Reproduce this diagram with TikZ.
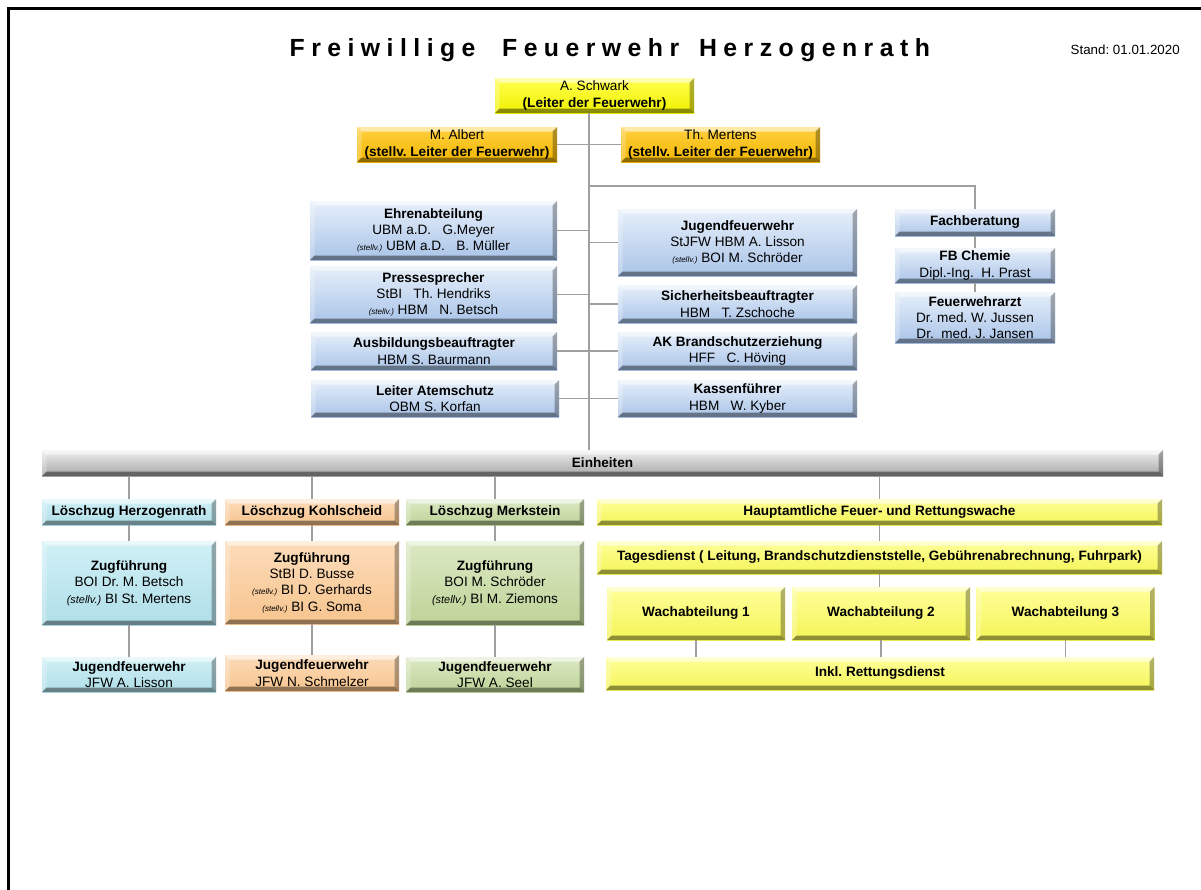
\documentclass[tikz,border=0pt]{standalone}
\usepackage{fontspec}
\setmainfont{Liberation Sans}
\frenchspacing

\definecolor{yelT}{HTML}{FFFF50}
\definecolor{yelB}{HTML}{F0F000}
\definecolor{goldT}{HTML}{FFD040}
\definecolor{goldB}{HTML}{F2B600}
\definecolor{blueT}{HTML}{E6EFFA}
\definecolor{blueB}{HTML}{AAC4E8}
\definecolor{paleT}{HTML}{FFFF9A}
\definecolor{paleB}{HTML}{F4F458}
\definecolor{cyanT}{HTML}{D0F0F6}
\definecolor{cyanB}{HTML}{B0DEE8}
\definecolor{peachT}{HTML}{FCDCBA}
\definecolor{peachB}{HTML}{F7C48E}
\definecolor{greenT}{HTML}{DCE9C4}
\definecolor{greenB}{HTML}{BED398}
\definecolor{grayT}{HTML}{EEEEEE}
\definecolor{grayB}{HTML}{A6A6A6}

\newcommand\bxfont{\fontsize{10.2}{12.2}\selectfont}
\newcommand\stv{{\fontsize{6}{6}\selectfont\itshape (stellv.)}}
\newcommand\stvb{{\fontsize{8.2}{9}\selectfont\itshape (stellv.)}}
\def\bw{4.5}

\tikzset{
  wh/.style 2 args={minimum width=#1*0.75pt, minimum height=#2*0.75pt},
  bev/.style 2 args={draw=none, inner sep=0pt, outer sep=0pt, align=center,
    font=\bxfont, top color=#1, bottom color=#2,
    path picture={
      \coordinate (nw) at (path picture bounding box.north west);
      \coordinate (ne) at (path picture bounding box.north east);
      \coordinate (sw) at (path picture bounding box.south west);
      \coordinate (se) at (path picture bounding box.south east);
      \fill[white, opacity=.55] (nw) -- (ne) -- ([shift={(-\bw,\bw)}]ne) -- ([shift={(\bw,\bw)}]nw) -- cycle;
      \fill[white, opacity=.25] (nw) -- ([shift={(\bw,\bw)}]nw) -- ([shift={(\bw,-\bw)}]sw) -- (sw) -- cycle;
      \fill[black, opacity=.30] (ne) -- (se) -- ([shift={(-\bw,-\bw)}]se) -- ([shift={(-\bw,\bw)}]ne) -- cycle;
      \fill[black, opacity=.42] (sw) -- ([shift={(\bw,-\bw)}]sw) -- ([shift={(-\bw,-\bw)}]se) -- (se) -- cycle;
    }},
  yelbox/.style={bev={yelT}{yelB}},
  goldbox/.style={bev={goldT}{goldB}},
  bluebox/.style={bev={blueT}{blueB}},
  palebox/.style={bev={paleT}{paleB}},
  cyanbox/.style={bev={cyanT}{cyanB}},
  peachbox/.style={bev={peachT}{peachB}},
  greenbox/.style={bev={greenT}{greenB}},
  graybox/.style={bev={grayT}{grayB}},
  link/.style={draw=gray!75, line width=0.9pt},
}

\begin{document}
\begin{tikzpicture}[x=0.75pt, y=-0.75pt]
\useasboundingbox (0,0) rectangle (1201,889);
\fill[white] (0,0) rectangle (1201,889);
\draw[line width=2.2pt] (8.5,8.5) rectangle (1215,900);

\node[anchor=west] (title) at (285,50) {\fontsize{18.6}{20}\selectfont\bfseries\addfontfeature{LetterSpace=26}Freiwillige\hspace{20pt}Feuerwehr\hspace{15pt}Herzogenrath};
\node[anchor=west, font=\fontsize{10}{12}\selectfont] (stand) at (1066,50) {Stand: 01.01.2020};

%%% Leitung
\node[yelbox, wh={199}{35}] (schwark) at (594.5,95.5) {A. Schwark\\\textbf{(Leiter der Feuerwehr)}};
\node[goldbox, wh={200}{35}] (albert) at (457,144.5) {M. Albert\\\textbf{(stellv. Leiter der Feuerwehr)}};
\node[goldbox, wh={199}{35}] (mertens) at (720.5,144.5) {Th. Mertens\\\textbf{(stellv. Leiter der Feuerwehr)}};

%%% Stab links
\node[bluebox, wh={247}{59}] (ehren) at (433.5,230.5) {\textbf{Ehrenabteilung}\\UBM a.D.~~~G.Meyer\\\stv{} UBM a.D.~~~B. M\"uller};
\node[bluebox, wh={247}{57}] (presse) at (433.5,294.5) {\textbf{Pressesprecher}\\StBI~~~Th. Hendriks\\\stv{} HBM~~~N. Betsch};
\node[bluebox, wh={246}{38}] (ausb) at (434,351) {\textbf{Ausbildungsbeauftragter}\\HBM S. Baurmann};
\node[bluebox, wh={248}{37}] (atem) at (435,398.5) {\textbf{Leiter Atemschutz}\\OBM S. Korfan};

%%% Stab rechts
\node[bluebox, wh={239}{67}] (jugend) at (737.5,242.5) {\textbf{Jugendfeuerwehr}\\StJFW HBM A. Lisson\\\stv{} BOI M. Schr\"oder};
\node[bluebox, wh={239}{38}] (sicher) at (737.5,304) {\textbf{Sicherheitsbeauftragter}\\HBM~~~T. Zschoche};
\node[bluebox, wh={239}{38}] (ak) at (737.5,351) {\textbf{AK Brandschutzerziehung}\\HFF~~~C. H\"oving};
\node[bluebox, wh={239}{37}] (kassen) at (737.5,398.5) {\textbf{Kassenf\"uhrer}\\HBM~~~W. Kyber};

%%% Fachberatung
\node[bluebox, wh={160}{27}] (fach) at (975,222.5) {\textbf{Fachberatung}};
\node[bluebox, wh={160}{35}] (chemie) at (975,265.5) {\textbf{FB Chemie}\\Dipl.-Ing.~~H. Prast};
\node[bluebox, wh={160}{51}] (arzt) at (975,317.5) {\textbf{Feuerwehrarzt}\\Dr. med. W. Jussen\\Dr.~~med. J. Jansen};

%%% Einheiten
\node[graybox, wh={1121}{26}] (einheiten) at (602.5,463) {\textbf{Einheiten}};

\foreach \i/\x/\w/\st/\nm in {1/129/174/cyanbox/Herzogenrath, 2/312/174/peachbox/Kohlscheid, 3/495/178/greenbox/Merkstein}
\node[\st, wh={\w}{26}] (lz\i) at (\x,512) {\textbf{L\"oschzug \nm}};

\node[cyanbox, wh={174}{84}] (zug1) at (129,583) {\textbf{Zugf\"uhrung}\\BOI Dr. M. Betsch\\\stvb{} BI St. Mertens};
\node[peachbox, wh={174}{83}] (zug2) at (312,582.5) {\textbf{Zugf\"uhrung}\\StBI D. Busse\\\stv{} BI D. Gerhards\\\stv{} BI G. Soma};
\node[greenbox, wh={178}{84}] (zug3) at (495,583) {\textbf{Zugf\"uhrung}\\BOI M. Schr\"oder\\\stvb{} BI M. Ziemons};

\node[cyanbox, wh={174}{35}] (jfw1) at (129,674.5) {\textbf{Jugendfeuerwehr}\\JFW A. Lisson};
\node[peachbox, wh={174}{36}] (jfw2) at (312,673) {\textbf{Jugendfeuerwehr}\\JFW N. Schmelzer};
\node[greenbox, wh={178}{35}] (jfw3) at (495,674.5) {\textbf{Jugendfeuerwehr}\\JFW A. Seel};

%%% Hauptamtliche Wache
\node[palebox, wh={565}{26}] (haupt) at (879.5,512) {\textbf{Hauptamtliche Feuer- und Rettungswache}};
\node[palebox, wh={565}{33}] (tages) at (879.5,557.5) {\textbf{Tagesdienst ( Leitung, Brandschutzdienststelle, Geb\"uhrenabrechnung, Fuhrpark)}};
\foreach \i/\x in {1/696, 2/881, 3/1065.5}
\node[palebox, wh={178}{53}] (wach\i) at (\x,613.5) {\textbf{Wachabteilung \i}};
\node[palebox, wh={548}{33}] (inkl) at (880,673.5) {\textbf{Inkl. Rettungsdienst}};

%%% Linien
\coordinate (t) at (589,113);
\coordinate (split) at (589,186);
\draw[link] (schwark.south -| t) -- (einheiten.north -| t);
\draw[link] (albert.east) -- (mertens.west);
\draw[link] (split) -| (fach.north);
\draw[link] (fach.south) -- (chemie.north);
\draw[link] (chemie.south) -- (arzt.north);

\draw[link] (ehren.east) -- (ehren.east -| t);
\draw[link] (presse.east) -- (presse.east -| t);
\draw[link] (jugend.west) -- (jugend.west -| t);
\draw[link] (sicher.west) -- (sicher.west -| t);
\draw[link] (ausb.east) -- (ak.west);
\draw[link] (atem.east) -- (kassen.west);

\foreach \i in {1,2,3} {
\draw[link] (einheiten.south -| lz\i.north) -- (lz\i.north);
\draw[link] (lz\i.south) -- (zug\i.north);
\draw[link] (zug\i.south) -- (jfw\i.north);
\draw[link] (wach\i.south) -- (wach\i.south |- inkl.north);
}
\draw[link] (einheiten.south -| haupt.north) -- (haupt.north);
\draw[link] (haupt.south) -- (tages.north);
\draw[link] (tages.south) -- (tages.south |- wach2.north);

\end{tikzpicture}
\end{document}
